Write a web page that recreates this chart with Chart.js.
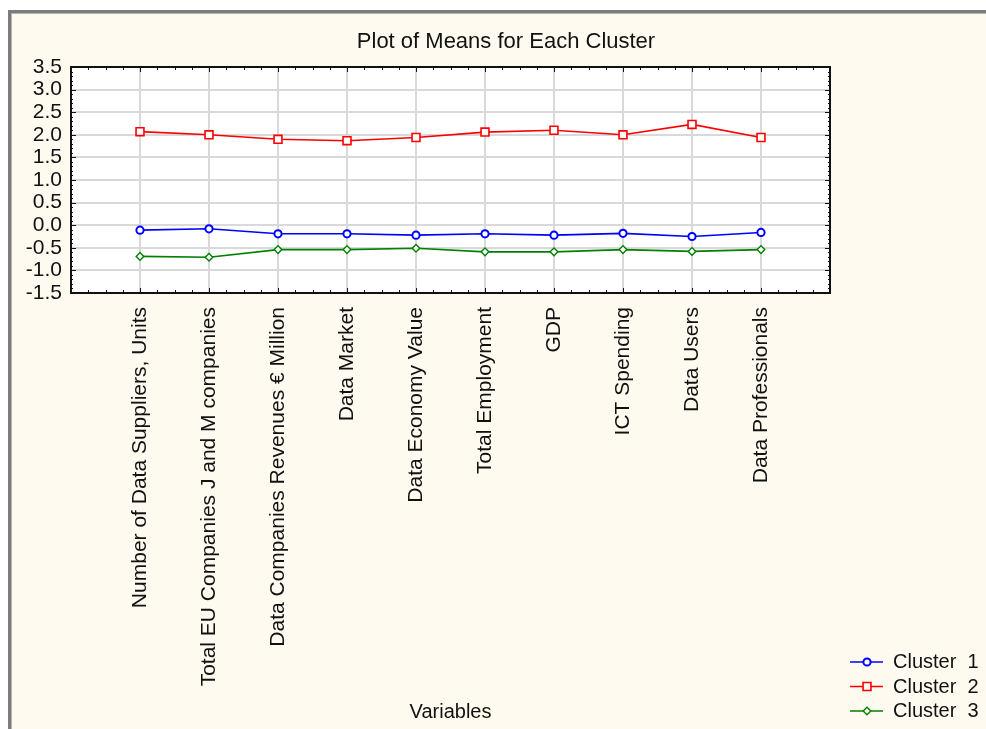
<!DOCTYPE html>
<html>
<head>
<meta charset="utf-8">
<title>Plot of Means for Each Cluster</title>
<script src="https://cdn.jsdelivr.net/npm/chart.js@4.4.1/dist/chart.umd.min.js"></script>
<style>
  html, body { margin: 0; padding: 0; background: #ffffff; }
  #wrap { width: 986px; height: 729px; position: relative; }
</style>
</head>
<body>
<div id="wrap"><canvas id="c"></canvas></div>
<script>
// Variables on the horizontal axis
const categories = [
  "Number of Data Suppliers, Units",
  "Total EU Companies J and M companies",
  "Data Companies Revenues € Million",
  "Data Market",
  "Data Economy Value",
  "Total Employment",
  "GDP",
  "ICT Spending",
  "Data Users",
  "Data Professionals"
];

// Cluster means (standardised)
const cluster1 = [-0.11, -0.08, -0.19, -0.19, -0.22, -0.19, -0.22, -0.18, -0.25, -0.16];
const cluster2 = [2.07, 2.00, 1.90, 1.87, 1.94, 2.06, 2.10, 2.00, 2.23, 1.94];
const cluster3 = [-0.69, -0.71, -0.54, -0.54, -0.51, -0.59, -0.59, -0.54, -0.58, -0.54];

const seriesNames = ["Cluster  1", "Cluster  2", "Cluster  3"];
const yTickValues = [-1.5, -1.0, -0.5, 0.0, 0.5, 1.0, 1.5, 2.0, 2.5, 3.0, 3.5];
const titleText = "Plot of Means for Each Cluster";
const xAxisTitle = "Variables";

const FONT = "'Liberation Sans', Arial, sans-serif";
const TEXT = "#111111";

// categories sit at positions 1..N on a linear axis with one empty slot on each side
const toPoints = arr => arr.map((v, i) => ({ x: i + 1, y: v }));

const frameAndDecor = {
  id: 'frameAndDecor',
  beforeDraw(chart) {
    const ctx = chart.ctx;
    const W = chart.width, H = chart.height;
    const a = chart.chartArea;
    ctx.save();
    ctx.fillStyle = '#ffffff';
    ctx.fillRect(0, 0, W, H);
    // window panel
    ctx.fillStyle = '#fffaef';
    ctx.fillRect(8, 10, W - 8, H - 10);
    ctx.fillStyle = '#7c7c7c';
    ctx.fillRect(8, 10, W - 8, 3);
    ctx.fillRect(8, 10, 3, H - 10);
    ctx.fillStyle = '#b4b4b4';
    ctx.fillRect(11, 13, W - 11, 1);
    ctx.fillRect(11, 13, 1, H - 13);
    // plot background
    ctx.fillStyle = '#ffffff';
    ctx.fillRect(a.left, a.top, a.right - a.left, a.bottom - a.top);
    ctx.restore();
  },
  afterDraw(chart) {
    const ctx = chart.ctx;
    const a = chart.chartArea;
    const xs = chart.scales.x, ys = chart.scales.y;
    ctx.save();
    // inward tick marks on all four sides
    ctx.strokeStyle = '#111111';
    ctx.lineWidth = 1;
    ctx.beginPath();
    for (let k = 0; k <= 44; k++) {
      const v = k / 4;
      const px = Math.round(xs.getPixelForValue(v)) + 0.5;
      const len = (k % 4 === 0) ? 5 : 3;
      ctx.moveTo(px, a.top); ctx.lineTo(px, a.top + len);
      ctx.moveTo(px, a.bottom); ctx.lineTo(px, a.bottom - len);
    }
    for (let k = -15; k <= 35; k++) {
      const v = k / 10;
      const py = Math.round(ys.getPixelForValue(v)) + 0.5;
      const len = (k % 5 === 0) ? 5 : 2;
      ctx.moveTo(a.left, py); ctx.lineTo(a.left + len, py);
      ctx.moveTo(a.right, py); ctx.lineTo(a.right - len, py);
    }
    ctx.stroke();
    // plot frame
    ctx.lineWidth = 2;
    ctx.strokeStyle = '#111111';
    ctx.strokeRect(a.left, a.top, a.right - a.left, a.bottom - a.top);

    // title
    ctx.fillStyle = TEXT;
    ctx.font = "22px " + FONT;
    ctx.textAlign = 'center';
    ctx.textBaseline = 'alphabetic';
    ctx.fillText(titleText, 506, 48);

    // legend
    ctx.font = "20px " + FONT;
    ctx.textAlign = 'left';
    chart.data.datasets.forEach((ds, i) => {
      const cy = 662 + 24.5 * i;
      ctx.strokeStyle = ds.borderColor;
      ctx.lineWidth = 1.5;
      ctx.beginPath();
      ctx.moveTo(850, cy); ctx.lineTo(883, cy);
      ctx.stroke();
      ctx.fillStyle = '#fffaef';
      ctx.strokeStyle = ds.pointBorderColor;
      ctx.lineWidth = ds.pointBorderWidth;
      Chart.helpers.drawPoint(ctx, {
        pointStyle: ds.pointStyle,
        radius: ds.pointRadius,
        borderWidth: ds.pointBorderWidth
      }, 867, cy);
      ctx.fillStyle = TEXT;
      ctx.textBaseline = 'alphabetic';
      ctx.fillText(ds.label, 893, cy + 6);
    });
    ctx.restore();
  }
};

const ctx = document.getElementById('c');
const chart = new Chart(ctx, {
  type: 'line',
  data: {
    datasets: [
      {
        label: seriesNames[0],
        data: toPoints(cluster1),
        borderColor: '#0000ff',
        backgroundColor: '#ffffff',
        borderWidth: 1.6,
        pointStyle: 'circle',
        pointRadius: 3.6,
        pointBorderWidth: 2,
        pointBackgroundColor: '#ffffff',
        pointBorderColor: '#0000ff',
        tension: 0
      },
      {
        label: seriesNames[1],
        data: toPoints(cluster2),
        borderColor: '#ff0000',
        backgroundColor: '#ffffff',
        borderWidth: 1.6,
        pointStyle: 'rect',
        pointRadius: 5.6,
        pointBorderWidth: 1.6,
        pointBackgroundColor: '#ffffff',
        pointBorderColor: '#ff0000',
        tension: 0
      },
      {
        label: seriesNames[2],
        data: toPoints(cluster3),
        borderColor: '#008000',
        backgroundColor: '#ffffff',
        borderWidth: 1.6,
        pointStyle: 'rectRot',
        pointRadius: 3.8,
        pointBorderWidth: 1.4,
        pointBackgroundColor: '#ffffff',
        pointBorderColor: '#008000',
        tension: 0
      }
    ]
  },
  options: {
    responsive: true,
    maintainAspectRatio: false,
    animation: false,
    devicePixelRatio: 1,
    layout: { padding: { left: 0, top: 67, right: 156, bottom: 0 } },
    plugins: {
      legend: { display: false },
      title: { display: false },
      tooltip: { enabled: false }
    },
    scales: {
      x: {
        type: 'linear',
        min: 0,
        max: categories.length + 1,
        afterBuildTicks(scale) {
          const t = [];
          for (let i = 0; i <= categories.length + 1; i++) t.push({ value: i });
          scale.ticks = t;
        },
        afterFit(scale) { scale.height = 436; },
        grid: {
          color: '#d9d9d9',
          lineWidth: 2,
          drawTicks: false
        },
        border: { display: false },
        ticks: {
          autoSkip: false,
          minRotation: 90,
          maxRotation: 90,
          padding: 14,
          color: TEXT,
          font: { family: FONT, size: 21 },
          callback(v) {
            return (v >= 1 && v <= categories.length) ? categories[v - 1] : '';
          }
        },
        title: {
          display: true,
          text: xAxisTitle,
          color: TEXT,
          font: { family: FONT, size: 20 },
          padding: { top: 0, bottom: 5 }
        }
      },
      y: {
        type: 'linear',
        min: yTickValues[0],
        max: yTickValues[yTickValues.length - 1],
        afterBuildTicks(scale) {
          scale.ticks = yTickValues.map(v => ({ value: v }));
        },
        afterFit(scale) { scale.width = 71; },
        grid: {
          color: '#d9d9d9',
          lineWidth: 2,
          drawTicks: false
        },
        border: { display: false },
        ticks: {
          autoSkip: false,
          padding: 9,
          color: TEXT,
          font: { family: FONT, size: 21 },
          callback(v) { return Number(v).toFixed(1); }
        }
      }
    }
  },
  plugins: [frameAndDecor]
});
</script>
</body>
</html>
